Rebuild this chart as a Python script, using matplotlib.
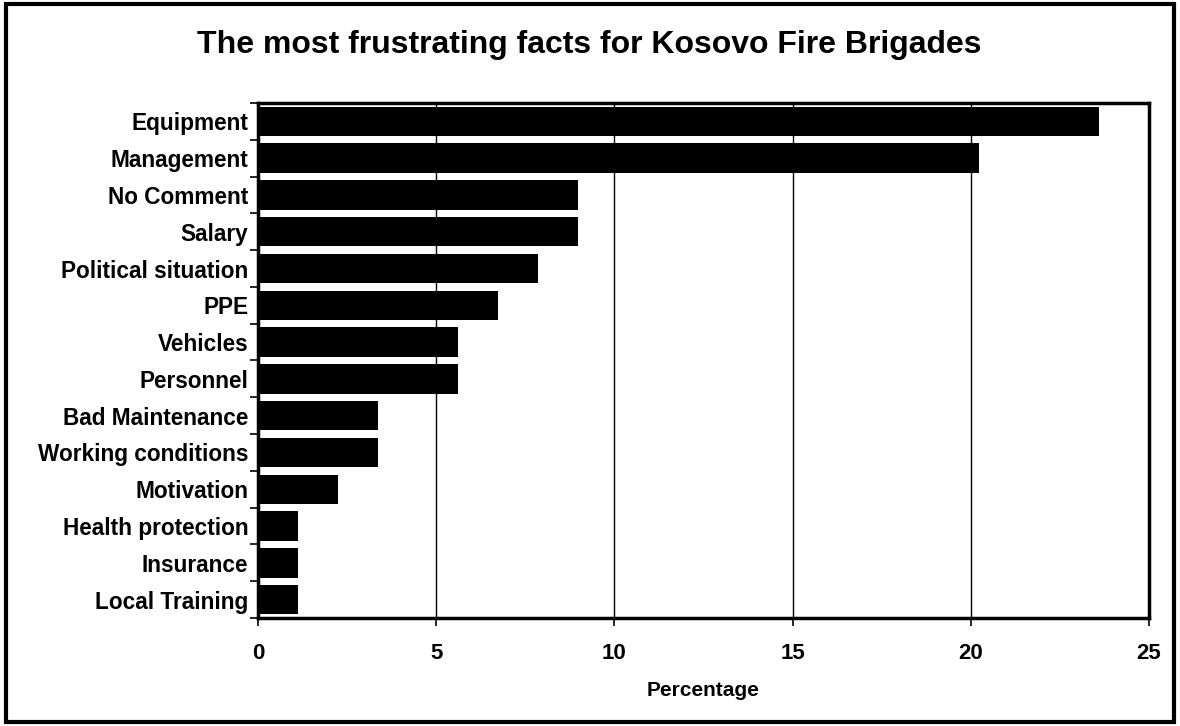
import numpy as np
import matplotlib.pyplot as plt
from matplotlib.patches import Rectangle

plt.rcParams['font.family'] = ['Liberation Sans', 'DejaVu Sans']

# data (percent of respondents)
categories = ['Equipment', 'Management', 'No Comment', 'Salary', 'Political situation',
              'PPE', 'Vehicles', 'Personnel', 'Bad Maintenance', 'Working conditions',
              'Motivation', 'Health protection', 'Insurance', 'Local Training']
values = [23.6, 20.22, 8.99, 8.99, 7.87, 6.74, 5.62, 5.62, 3.37, 3.37, 2.25, 1.12, 1.12, 1.12]
xticks = [0, 5, 10, 15, 20, 25]

fig = plt.figure(figsize=(11.8, 7.26), dpi=100)
ax = fig.add_axes([0.2186, 0.1488, 0.7551, 0.7093])

y = np.arange(len(categories))
ax.barh(y, values, height=0.8, color='black', zorder=3)
ax.set_ylim(len(categories) - 0.5, -0.5)
ax.set_xlim(0, 25)

ax.set_yticks(y)
ax.set_yticklabels(categories, fontsize=16.3, fontweight='bold')
ax.set_yticks(np.arange(len(categories) + 1) - 0.5, minor=True)
ax.tick_params(axis='y', which='major', length=0, pad=7)
ax.tick_params(axis='y', which='minor', length=6, width=1.2, direction='out')

ax.set_xticks(xticks)
ax.set_xticklabels([str(t) for t in xticks], fontsize=16, fontweight='bold')
ax.tick_params(axis='x', length=6, width=1.2, direction='out', pad=12)
ax.xaxis.grid(True, color='black', linewidth=1, zorder=0)
ax.set_axisbelow(True)

for s in ax.spines.values():
    s.set_linewidth(2.5)

ax.set_xlabel('Percentage', fontsize=15, fontweight='bold', labelpad=12)
fig.text(0.499, 0.938, 'The most frustrating facts for Kosovo Fire Brigades',
         ha='center', va='center', fontsize=23, fontweight='bold')

fig.patches.append(Rectangle((0.005, 0.006), 0.99, 0.988, transform=fig.transFigure,
                             fill=False, edgecolor='black', linewidth=3))

fig.savefig('out.png', dpi=100)
